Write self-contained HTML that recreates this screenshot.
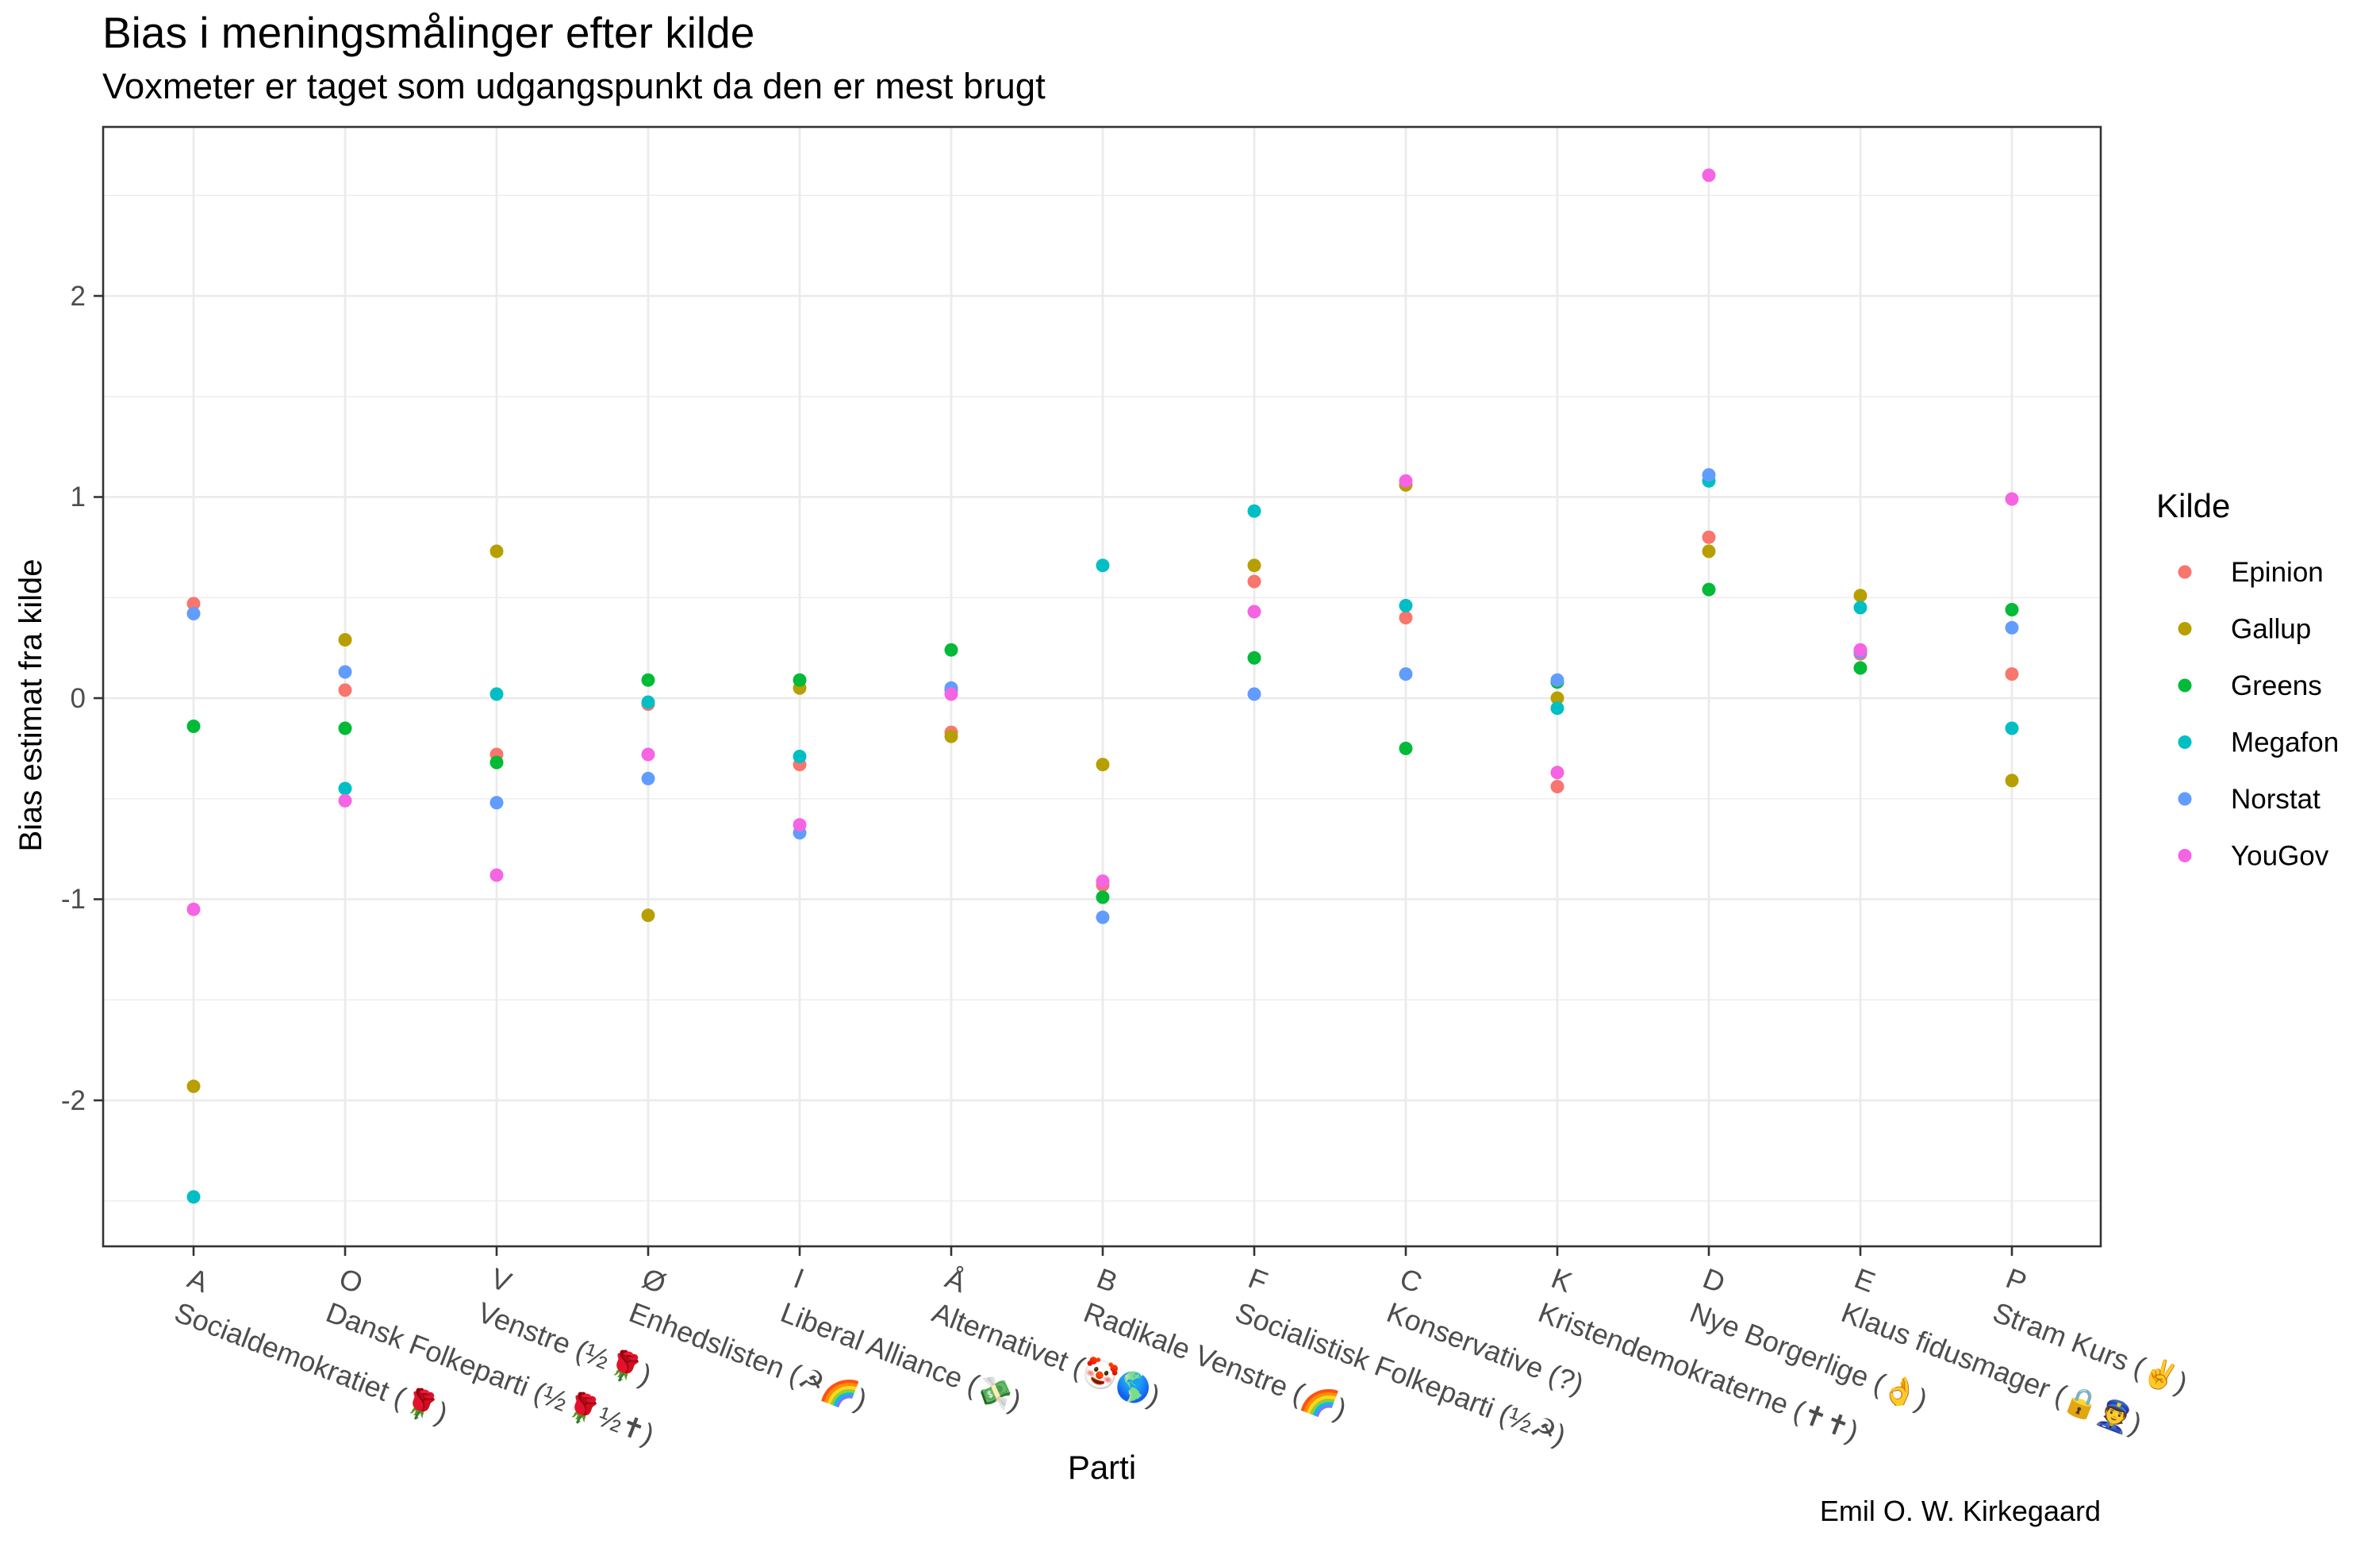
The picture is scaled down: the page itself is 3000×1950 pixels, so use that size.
<!DOCTYPE html>
<html><head><meta charset="utf-8"><style>
html,body{margin:0;padding:0;background:#fff;}
svg{display:block;font-family:"Liberation Sans","Noto Sans CJK JP",sans-serif;}
</style></head><body>
<svg width="3000" height="1950" viewBox="0 0 3000 1950" xmlns="http://www.w3.org/2000/svg">
<rect width="3000" height="1950" fill="#fff"/>
<text x="129" y="60" font-size="55" fill="#000">Bias i meningsmålinger efter kilde</text>
<text x="129" y="124" font-size="45.5" fill="#000">Voxmeter er taget som udgangspunkt da den er mest brugt</text>
<g stroke="#EBEBEB" stroke-width="1.4">
<line x1="130" x2="2648" y1="246.3" y2="246.3"/><line x1="130" x2="2648" y1="499.8" y2="499.8"/><line x1="130" x2="2648" y1="753.3" y2="753.3"/><line x1="130" x2="2648" y1="1006.8" y2="1006.8"/><line x1="130" x2="2648" y1="1260.3" y2="1260.3"/><line x1="130" x2="2648" y1="1513.8" y2="1513.8"/>
</g>
<g stroke="#EBEBEB" stroke-width="2.8">
<line x1="130" x2="2648" y1="373" y2="373"/><line x1="130" x2="2648" y1="626.5" y2="626.5"/><line x1="130" x2="2648" y1="880" y2="880"/><line x1="130" x2="2648" y1="1133.5" y2="1133.5"/><line x1="130" x2="2648" y1="1387" y2="1387"/>
<line x1="244" x2="244" y1="160" y2="1571"/><line x1="435" x2="435" y1="160" y2="1571"/><line x1="626" x2="626" y1="160" y2="1571"/><line x1="817" x2="817" y1="160" y2="1571"/><line x1="1008" x2="1008" y1="160" y2="1571"/><line x1="1199" x2="1199" y1="160" y2="1571"/><line x1="1390" x2="1390" y1="160" y2="1571"/><line x1="1581" x2="1581" y1="160" y2="1571"/><line x1="1772" x2="1772" y1="160" y2="1571"/><line x1="1963" x2="1963" y1="160" y2="1571"/><line x1="2154" x2="2154" y1="160" y2="1571"/><line x1="2345" x2="2345" y1="160" y2="1571"/><line x1="2536" x2="2536" y1="160" y2="1571"/>
</g>
<g>
<g fill="#F8766D">
<circle cx="244" cy="760.9" r="8.5"/><circle cx="435" cy="869.9" r="8.5"/><circle cx="626" cy="951" r="8.5"/><circle cx="817" cy="887.6" r="8.5"/><circle cx="1008" cy="963.7" r="8.5"/><circle cx="1199" cy="923.1" r="8.5"/><circle cx="1390" cy="1115.8" r="8.5"/><circle cx="1581" cy="733" r="8.5"/><circle cx="1772" cy="778.6" r="8.5"/><circle cx="1963" cy="991.5" r="8.5"/><circle cx="2154" cy="677.2" r="8.5"/><circle cx="2345" cy="824.2" r="8.5"/><circle cx="2536" cy="849.6" r="8.5"/>
</g>
<g fill="#B79F00">
<circle cx="244" cy="1369.3" r="8.5"/><circle cx="435" cy="806.5" r="8.5"/><circle cx="626" cy="694.9" r="8.5"/><circle cx="817" cy="1153.8" r="8.5"/><circle cx="1008" cy="867.3" r="8.5"/><circle cx="1199" cy="928.2" r="8.5"/><circle cx="1390" cy="963.7" r="8.5"/><circle cx="1581" cy="712.7" r="8.5"/><circle cx="1772" cy="611.3" r="8.5"/><circle cx="1963" cy="880" r="8.5"/><circle cx="2154" cy="694.9" r="8.5"/><circle cx="2345" cy="750.7" r="8.5"/><circle cx="2536" cy="983.9" r="8.5"/>
</g>
<g fill="#00BA38">
<circle cx="244" cy="915.5" r="8.5"/><circle cx="435" cy="918" r="8.5"/><circle cx="626" cy="961.1" r="8.5"/><circle cx="817" cy="857.2" r="8.5"/><circle cx="1008" cy="857.2" r="8.5"/><circle cx="1199" cy="819.2" r="8.5"/><circle cx="1390" cy="1131" r="8.5"/><circle cx="1581" cy="829.3" r="8.5"/><circle cx="1772" cy="943.4" r="8.5"/><circle cx="1963" cy="859.7" r="8.5"/><circle cx="2154" cy="743.1" r="8.5"/><circle cx="2345" cy="842" r="8.5"/><circle cx="2536" cy="768.5" r="8.5"/>
</g>
<g fill="#00BFC4">
<circle cx="244" cy="1508.7" r="8.5"/><circle cx="435" cy="994" r="8.5"/><circle cx="626" cy="874.9" r="8.5"/><circle cx="817" cy="885.1" r="8.5"/><circle cx="1008" cy="953.5" r="8.5"/><circle cx="1199" cy="869.9" r="8.5"/><circle cx="1390" cy="712.7" r="8.5"/><circle cx="1581" cy="644.2" r="8.5"/><circle cx="1772" cy="763.4" r="8.5"/><circle cx="1963" cy="892.7" r="8.5"/><circle cx="2154" cy="606.2" r="8.5"/><circle cx="2345" cy="765.9" r="8.5"/><circle cx="2536" cy="918" r="8.5"/>
</g>
<g fill="#619CFF">
<circle cx="244" cy="773.5" r="8.5"/><circle cx="435" cy="847" r="8.5"/><circle cx="626" cy="1011.8" r="8.5"/><circle cx="817" cy="981.4" r="8.5"/><circle cx="1008" cy="1049.8" r="8.5"/><circle cx="1199" cy="867.3" r="8.5"/><circle cx="1390" cy="1156.3" r="8.5"/><circle cx="1581" cy="874.9" r="8.5"/><circle cx="1772" cy="849.6" r="8.5"/><circle cx="1963" cy="857.2" r="8.5"/><circle cx="2154" cy="598.6" r="8.5"/><circle cx="2345" cy="821.7" r="8.5"/><circle cx="2536" cy="791.3" r="8.5"/>
</g>
<g fill="#F564E3">
<circle cx="244" cy="1146.2" r="8.5"/><circle cx="435" cy="1009.3" r="8.5"/><circle cx="626" cy="1103.1" r="8.5"/><circle cx="817" cy="951" r="8.5"/><circle cx="1008" cy="1039.7" r="8.5"/><circle cx="1199" cy="874.9" r="8.5"/><circle cx="1390" cy="1110.7" r="8.5"/><circle cx="1581" cy="771" r="8.5"/><circle cx="1772" cy="606.2" r="8.5"/><circle cx="1963" cy="973.8" r="8.5"/><circle cx="2154" cy="220.9" r="8.5"/><circle cx="2345" cy="819.2" r="8.5"/><circle cx="2536" cy="629" r="8.5"/>
</g>
</g>
<rect x="130" y="160" width="2518" height="1411" fill="none" stroke="#333" stroke-width="2.6"/>
<g stroke="#333" stroke-width="2.6">
<line x1="118" x2="130" y1="373" y2="373"/><line x1="118" x2="130" y1="626.5" y2="626.5"/><line x1="118" x2="130" y1="880" y2="880"/><line x1="118" x2="130" y1="1133.5" y2="1133.5"/><line x1="118" x2="130" y1="1387" y2="1387"/>
<line x1="244" x2="244" y1="1571" y2="1583"/><line x1="435" x2="435" y1="1571" y2="1583"/><line x1="626" x2="626" y1="1571" y2="1583"/><line x1="817" x2="817" y1="1571" y2="1583"/><line x1="1008" x2="1008" y1="1571" y2="1583"/><line x1="1199" x2="1199" y1="1571" y2="1583"/><line x1="1390" x2="1390" y1="1571" y2="1583"/><line x1="1581" x2="1581" y1="1571" y2="1583"/><line x1="1772" x2="1772" y1="1571" y2="1583"/><line x1="1963" x2="1963" y1="1571" y2="1583"/><line x1="2154" x2="2154" y1="1571" y2="1583"/><line x1="2345" x2="2345" y1="1571" y2="1583"/><line x1="2536" x2="2536" y1="1571" y2="1583"/>
</g>
<g font-size="35" fill="#4D4D4D" text-anchor="end">
<text x="108" y="385">2</text><text x="108" y="638">1</text><text x="108" y="892">0</text><text x="108" y="1145">-1</text><text x="108" y="1399">-2</text>
</g>
<g font-size="36" fill="#4D4D4D">
<text transform="translate(234,1621) rotate(21)"><tspan x="0" y="0">A</tspan><tspan x="0" dy="46">Socialdemokratiet (🌹)</tspan></text>
<text transform="translate(425,1621) rotate(21)"><tspan x="0" y="0">O</tspan><tspan x="0" dy="46">Dansk Folkeparti (½🌹½✝)</tspan></text>
<text transform="translate(616,1621) rotate(21)"><tspan x="0" y="0">V</tspan><tspan x="0" dy="46">Venstre (½🌹)</tspan></text>
<text transform="translate(807,1621) rotate(21)"><tspan x="0" y="0">Ø</tspan><tspan x="0" dy="46">Enhedslisten (☭🌈)</tspan></text>
<text transform="translate(998,1621) rotate(21)"><tspan x="0" y="0">I</tspan><tspan x="0" dy="46">Liberal Alliance (💸)</tspan></text>
<text transform="translate(1189,1621) rotate(21)"><tspan x="0" y="0">Å</tspan><tspan x="0" dy="46">Alternativet (🤡🌎)</tspan></text>
<text transform="translate(1380,1621) rotate(21)"><tspan x="0" y="0">B</tspan><tspan x="0" dy="46">Radikale Venstre (🌈)</tspan></text>
<text transform="translate(1571,1621) rotate(21)"><tspan x="0" y="0">F</tspan><tspan x="0" dy="46">Socialistisk Folkeparti (½☭)</tspan></text>
<text transform="translate(1762,1621) rotate(21)"><tspan x="0" y="0">C</tspan><tspan x="0" dy="46">Konservative (?)</tspan></text>
<text transform="translate(1953,1621) rotate(21)"><tspan x="0" y="0">K</tspan><tspan x="0" dy="46">Kristendemokraterne (✝✝)</tspan></text>
<text transform="translate(2144,1621) rotate(21)"><tspan x="0" y="0">D</tspan><tspan x="0" dy="46">Nye Borgerlige (👌)</tspan></text>
<text transform="translate(2335,1621) rotate(21)"><tspan x="0" y="0">E</tspan><tspan x="0" dy="46">Klaus fidusmager (🔒👮)</tspan></text>
<text transform="translate(2526,1621) rotate(21)"><tspan x="0" y="0">P</tspan><tspan x="0" dy="46">Stram Kurs (✌)</tspan></text>
</g>
<text x="1389" y="1864" font-size="42" fill="#000" text-anchor="middle">Parti</text>
<text transform="translate(52,889) rotate(-90)" font-size="40" fill="#000" text-anchor="middle">Bias estimat fra kilde</text>
<text x="2648" y="1917" font-size="36" fill="#000" text-anchor="end">Emil O. W. Kirkegaard</text>
<text x="2718" y="652" font-size="42" fill="#000">Kilde</text>
<g font-size="35" fill="#000">
<circle cx="2754" cy="721" r="8.5" fill="#F8766D"/><text x="2812" y="733">Epinion</text>
<circle cx="2754" cy="792.5" r="8.5" fill="#B79F00"/><text x="2812" y="804.5">Gallup</text>
<circle cx="2754" cy="864" r="8.5" fill="#00BA38"/><text x="2812" y="876">Greens</text>
<circle cx="2754" cy="935.5" r="8.5" fill="#00BFC4"/><text x="2812" y="947.5">Megafon</text>
<circle cx="2754" cy="1007" r="8.5" fill="#619CFF"/><text x="2812" y="1019">Norstat</text>
<circle cx="2754" cy="1078.5" r="8.5" fill="#F564E3"/><text x="2812" y="1090.5">YouGov</text>
</g>
</svg>
</body></html>
